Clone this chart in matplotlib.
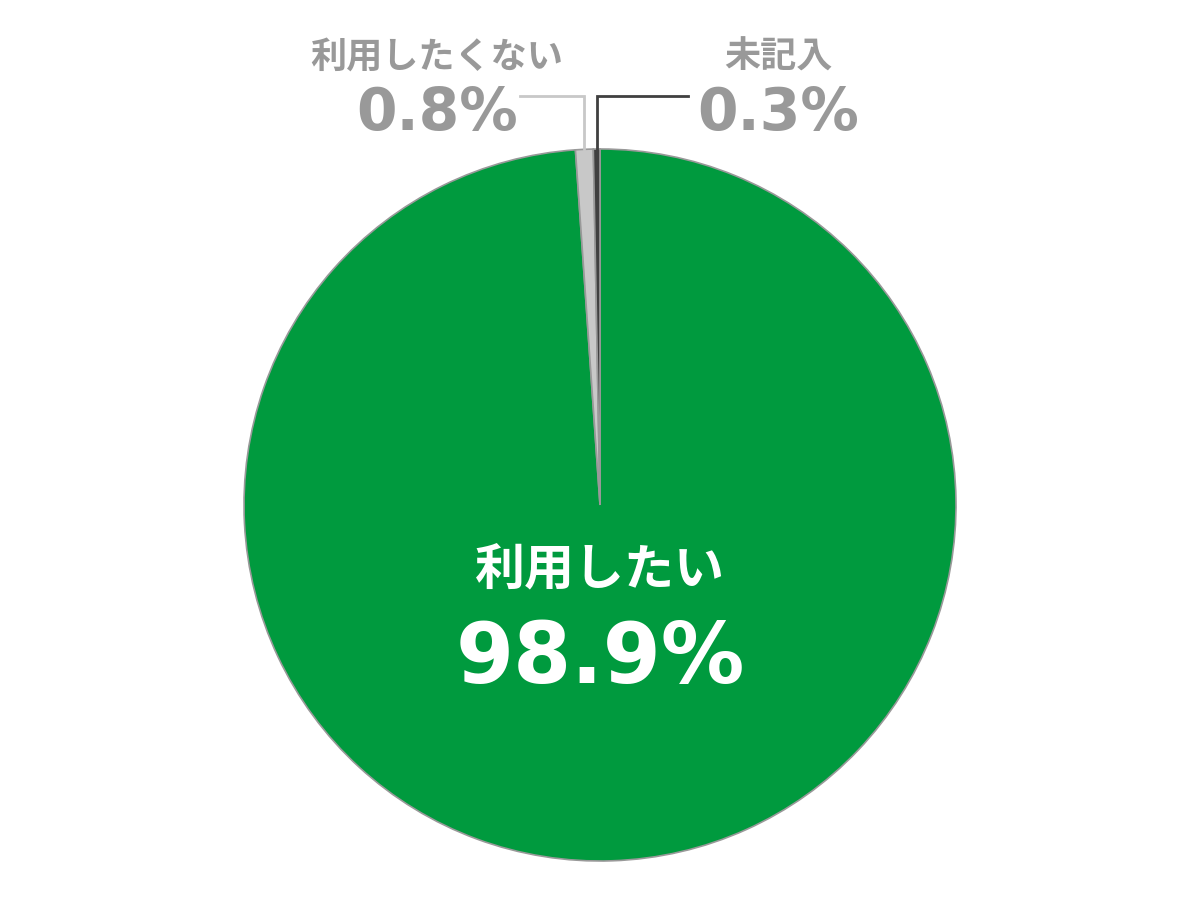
import numpy as np
import matplotlib
matplotlib.use("Agg")
import matplotlib.pyplot as plt

plt.rcParams['font.family'] = ['Noto Sans CJK JP', 'DejaVu Sans']

# data
labels = ["利用したい", "利用したくない", "未記入"]
values = [98.9, 0.8, 0.3]
colors = ["#009A3E", "#C8C8C8", "#404040"]

fig = plt.figure(figsize=(12, 9), dpi=100)
ax = fig.add_axes([0, 0, 1, 1])
ax.set_xlim(0, 1200)
ax.set_ylim(0, 900)
ax.set_aspect("equal")
ax.axis("off")

cx, cy, r = 600, 395, 356
wedges, _ = ax.pie(values, colors=colors, startangle=90, counterclock=False,
                   center=(cx, cy), radius=r,
                   wedgeprops=dict(edgecolor="#999999", linewidth=1.2))
ax.set_xlim(0, 1200)
ax.set_ylim(0, 900)

gray = "#999999"
num_font = ["DejaVu Sans"]

# big slice label
ax.text(cx, 330, labels[0], ha="center", va="center", color="white",
        fontsize=36, fontweight="bold")
ax.text(cx, 217, f"{values[0]}%", ha="center", va="baseline", color="white",
        fontsize=60, fontweight="bold", family=num_font)

# small slices with leader lines
elbow_y = 804
ends = {1: 520, 2: 688}
text_x = {1: 437, 2: 778}
for i in (1, 2):
    w = wedges[i]
    mid = np.deg2rad((w.theta1 + w.theta2) / 2)
    px = cx + r * np.cos(mid)
    py = cy + r * np.sin(mid)
    ax.plot([px, px, ends[i]], [py, elbow_y, elbow_y], color=colors[i],
            linewidth=2, solid_joinstyle="miter")
    ax.text(text_x[i], 843, labels[i], ha="center", va="center", color=gray,
            fontsize=26, fontweight="bold")
    ax.text(text_x[i], 770, f"{values[i]}%", ha="center", va="baseline", color=gray,
            fontsize=42, fontweight="bold", family=num_font)

fig.savefig("out.png", dpi=100)
